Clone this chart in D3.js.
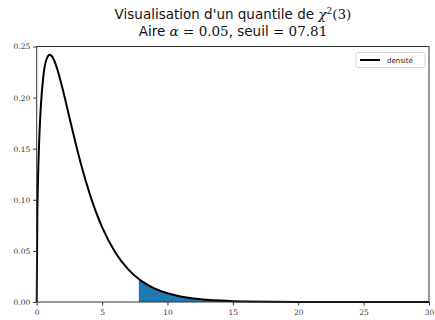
<!DOCTYPE html>
<html lang="fr">
<head>
  <meta charset="UTF-8">
  <script src="https://d3js.org/d3.v7.min.js"></script>
  <style>
    body { margin: 0; background: #fff; }
    .tick text { font-family: "DejaVu Serif", serif; font-size: 7.5px; fill: #333; }
    .title { font-family: "DejaVu Sans", sans-serif; font-size: 13.5px; fill: #111; }
    .math { font-family: "DejaVu Serif", serif; }
  </style>
</head>
<body>
  <svg class="graph" width="435" height="320"></svg>
  <script>
    // densité du chi2(3)
    const xs = [0, 0.05, 0.1, 0.2, 0.3, 0.5, 0.75, 1, 1.25, 1.5, 2, 2.5, 3, 3.5, 4, 5, 6, 7, 7.81,
      8, 9, 10, 11, 12, 13, 14, 15, 16, 18, 20, 22, 25, 30];
    const ys = [0, 0.087, 0.120, 0.161, 0.188, 0.220, 0.2375, 0.242, 0.2388, 0.2308, 0.2076, 0.1807, 0.1542, 0.1297, 0.108, 0.0732, 0.0487, 0.0319, 0.02245,
      0.0207, 0.0133, 0.0085, 0.0054, 0.0034, 0.0022, 0.0014, 0.00085, 0.00054, 0.00021, 0.00008, 0.00003, 0.000004, 0];
    const seuil = 7.81;
    const xTicks = [0, 5, 10, 15, 20, 25, 30];
    const yTicks = [0, 0.05, 0.10, 0.15, 0.20, 0.25];

    const svg = d3.select('svg.graph');
    const margins = { top: 46.5, right: 6, bottom: 18, left: 36.7 };
    const chartWidth = 429 - margins.left;
    const chartHeight = 302 - margins.top;

    const xScale = d3.scaleLinear().domain([0, 30]).range([0, chartWidth]);
    const yScale = d3.scaleLinear().domain([0, 0.25]).range([chartHeight, 0]);

    const chart = svg.append('g')
      .attr('transform', `translate(${margins.left},${margins.top})`);

    const pts = xs.map((x, i) => ({ x: x, y: ys[i] }));
    const tail = pts.filter(d => d.x >= seuil);

    // zone alpha
    chart.append('path')
      .datum(tail)
      .attr('fill', '#1f77b4')
      .attr('d', d3.area().x(d => xScale(d.x)).y0(yScale(0)).y1(d => yScale(d.y)).curve(d3.curveMonotoneX));

    // courbe
    chart.append('path')
      .datum(pts)
      .attr('fill', 'none')
      .attr('stroke', '#000')
      .attr('stroke-width', 2)
      .attr('d', d3.line().x(d => xScale(d.x)).y(d => yScale(d.y)).curve(d3.curveMonotoneX));

    // axes
    chart.append('g')
      .attr('transform', `translate(0,${chartHeight})`)
      .call(d3.axisBottom(xScale).tickValues(xTicks).tickSize(3.5).tickPadding(4).tickFormat(d3.format('d')))
      .call(g => g.select('.domain').remove())
      .call(g => g.selectAll('line').attr('stroke', '#333'));
    chart.append('g')
      .call(d3.axisLeft(yScale).tickValues(yTicks).tickSize(3.5).tickPadding(3).tickFormat(d3.format('.2f')))
      .call(g => g.select('.domain').remove())
      .call(g => g.selectAll('line').attr('stroke', '#333'));

    // cadre
    chart.append('rect')
      .attr('width', chartWidth).attr('height', chartHeight)
      .attr('fill', 'none').attr('stroke', '#333').attr('stroke-width', 1);

    // légende
    const leg = chart.append('g').attr('transform', `translate(${chartWidth - 73},6)`);
    leg.append('rect').attr('width', 69).attr('height', 15).attr('rx', 2)
      .attr('fill', '#fff').attr('stroke', '#ccc').attr('stroke-width', 0.8);
    leg.append('line').attr('x1', 4).attr('x2', 24).attr('y1', 7.5).attr('y2', 7.5)
      .attr('stroke', '#000').attr('stroke-width', 2);
    leg.append('text').attr('x', 31).attr('y', 10).text('densité')
      .style('font-family', 'DejaVu Sans, sans-serif').style('font-size', '7px').attr('fill', '#222');

    // titre
    const t1 = svg.append('text').attr('class', 'title').attr('x', 233).attr('y', 19).attr('text-anchor', 'middle');
    t1.append('tspan').text("Visualisation d'un quantile de ");
    t1.append('tspan').attr('class', 'math').attr('font-style', 'italic').text('χ');
    t1.append('tspan').attr('class', 'math').attr('font-size', '9px').attr('dy', -5).text('2');
    t1.append('tspan').attr('class', 'math').attr('dy', 5).text('(3)');

    const t2 = svg.append('text').attr('class', 'title').attr('x', 233).attr('y', 36).attr('text-anchor', 'middle');
    t2.append('tspan').text('Aire ');
    t2.append('tspan').attr('class', 'math').attr('font-style', 'italic').text('α');
    t2.append('tspan').attr('class', 'math').text(' = 0.05');
    t2.append('tspan').text(', seuil ');
    t2.append('tspan').attr('class', 'math').text('= 07.81');
  </script>
</body>
</html>
